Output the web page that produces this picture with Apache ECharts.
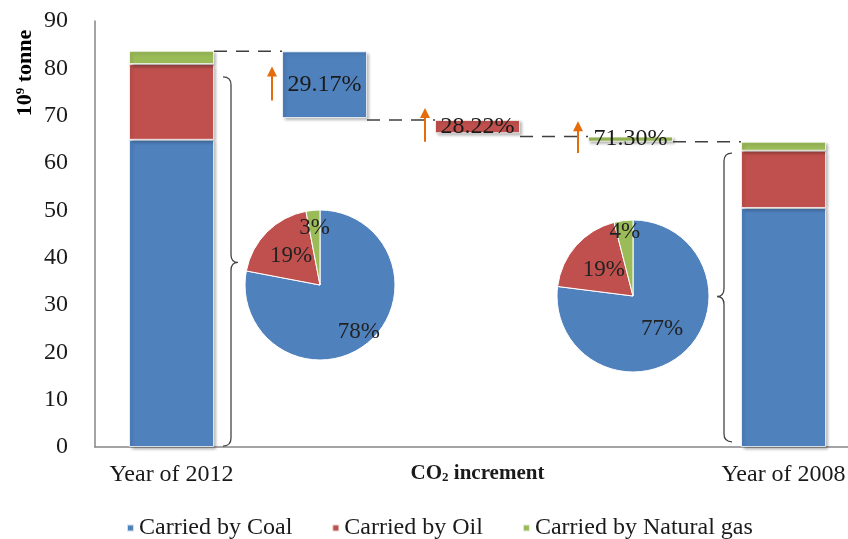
<!DOCTYPE html>
<html>
<head>
<meta charset="utf-8">
<script src="https://cdn.jsdelivr.net/npm/echarts@6/dist/echarts.min.js"></script>
<style>html,body{margin:0;padding:0;background:#fff}#c{width:848px;height:539px}</style>
</head>
<body>
<div id="c"></div>
<script>
// ---- data ----
const categories = ['2012', 'coalInc', 'oilInc', 'gasInc', '2008'];
const xLabels = ['Year of 2012', '', 'CO2 increment', '', 'Year of 2008'];
const seriesNames = ['Carried by Coal', 'Carried by Oil', 'Carried by Natural gas'];
const base = ['-', 69.5, 66.3, 64.5, '-'];
const coal = [64.9, 14.1, '-', '-', 50.5];
const oil  = [16.0, '-', 2.8, '-', 12.1];
const gas  = [2.8, '-', '-', 1.1, 1.9];
const incrementLabels = ['', '29.17%', '28.22%', '71.30%', ''];
const connectors = [[0, 1, 83.6], [1, 2, 69.1], [2, 3, 65.6], [3, 4, 64.5]];
const arrows = [[1, 73.2, 80.4], [2, 64.5, 71.6], [3, 62.1, 68.8]];
const braces = [[0, 78.2, 39.0, 0.2, 1], [4, 62.1, 31.8, 1.1, -1]];
const pie2012 = [78, 19, 3];
const pie2008 = [77, 19, 4];
const yTicks = [0, 90, 10];

// ---- style ----
const FONT = "'Liberation Serif', 'Times New Roman', serif";
const colors = ['#4F81BD', '#C0504D', '#9BBB59'];
const BAR_W = 85;
const TXT = '#1a1a1a';
const pieLabelRadius2012 = [61, 41, 57];
const pieLabelRadius2008 = [44, 39, 65];

const chart = echarts.init(document.getElementById('c'), null, {renderer: 'canvas'});

const barItem = (c) => ({
  color: c, borderColor: 'rgba(255,255,255,0.75)', borderWidth: 1,
  shadowColor: 'rgba(0,0,0,0.28)', shadowBlur: 3, shadowOffsetX: 2, shadowOffsetY: 2
});
const incLabel = {
  show: true, position: 'inside', fontFamily: FONT, fontSize: 24, color: TXT,
  formatter: p => incrementLabels[p.dataIndex]
};

function pieSeries(center, radius, vals, labelR) {
  const total = vals.reduce((a, b) => a + b, 0);
  let cum = 0;
  const pos = vals.map((v, i) => {
    const th = (cum + v / 2) / total * 2 * Math.PI;
    cum += v;
    return [center[0] + labelR[i] * Math.sin(th), center[1] - labelR[i] * Math.cos(th)];
  });
  return {
    type: 'pie', center: center, radius: radius, startAngle: 90, clockwise: true,
    silent: true, z: 3, animation: false,
    itemStyle: {borderColor: '#fff', borderWidth: 1},
    label: {show: true, position: 'inside', formatter: '{c}%', fontFamily: FONT, fontSize: 23,
            color: '#222', align: 'center', verticalAlign: 'middle'},
    labelLine: {show: false},
    labelLayout: p => ({x: pos[p.dataIndex][0], y: pos[p.dataIndex][1], align: 'center', verticalAlign: 'middle'}),
    data: vals.map((v, i) => ({name: seriesNames[i], value: v, itemStyle: {color: colors[i]}}))
  };
}

const option = {
  animation: false,
  textStyle: {fontFamily: FONT},
  grid: {left: 95, right: -12, top: 21, bottom: 92, containLabel: false, outerBoundsMode: 'none'},
  legend: {
    data: seriesNames, top: 511, left: 121, icon: 'rect',
    itemWidth: 7, itemHeight: 7, itemGap: 39,
    textStyle: {fontFamily: FONT, fontSize: 24, color: TXT}
  },
  xAxis: {
    type: 'category', data: categories,
    axisLine: {lineStyle: {color: '#868686', width: 1.5}},
    axisTick: {show: false},
    axisLabel: {
      interval: 0, margin: 16, fontFamily: FONT, fontSize: 24, color: TXT,
      formatter: (v, i) => {
        const t = xLabels[i];
        if (t.indexOf('CO2') === 0) return '{b|CO}{s|2}{b|' + t.slice(3) + '}';
        return t;
      },
      rich: {
        b: {fontFamily: FONT, fontSize: 21, fontWeight: 'bold', color: TXT},
        s: {fontFamily: FONT, fontSize: 13, fontWeight: 'bold', color: TXT, verticalAlign: 'bottom'}
      }
    }
  },
  yAxis: {
    type: 'value', min: yTicks[0], max: yTicks[1], interval: yTicks[2],
    axisLine: {show: true, lineStyle: {color: '#868686', width: 1.5}},
    axisTick: {show: false}, splitLine: {show: false},
    axisLabel: {margin: 27, fontFamily: FONT, fontSize: 24, color: TXT}
  },
  graphic: [{
    type: 'text', x: 25, y: 73, rotation: Math.PI / 2,
    style: {
      text: '{a|10}{s|9}{a| tonne}', align: 'center', verticalAlign: 'middle', fill: '#000',
      rich: {
        a: {fontFamily: FONT, fontSize: 22, fontWeight: 'bold', fill: '#000'},
        s: {fontFamily: FONT, fontSize: 13, fontWeight: 'bold', fill: '#000', verticalAlign: 'top'}
      }
    }
  }],
  series: [
    {name: 'base', type: 'bar', stack: 'w', barWidth: BAR_W, data: base, silent: true,
     itemStyle: {color: 'rgba(0,0,0,0)'}},
    {name: seriesNames[0], type: 'bar', stack: 'w', barWidth: BAR_W, data: coal,
     itemStyle: barItem(colors[0]), label: incLabel},
    {name: seriesNames[1], type: 'bar', stack: 'w', barWidth: BAR_W, data: oil,
     itemStyle: barItem(colors[1]), label: incLabel},
    {name: seriesNames[2], type: 'bar', stack: 'w', barWidth: BAR_W, data: gas,
     itemStyle: barItem(colors[2]), label: incLabel},
    {
      type: 'custom', silent: true, z: 5, data: connectors, encode: {x: 0, y: 2},
      renderItem: (params, api) => {
        const a = api.coord([api.value(0), api.value(2)]);
        const b = api.coord([api.value(1), api.value(2)]);
        const hw = BAR_W / 2;
        return {type: 'line', shape: {x1: a[0] + hw, y1: a[1], x2: b[0] - hw, y2: b[1]},
                style: {stroke: '#3f3f3f', lineWidth: 1.5, lineDash: [13, 9]}};
      }
    },
    {
      type: 'custom', silent: true, z: 5, data: arrows, encode: {x: 0, y: [1, 2]},
      renderItem: (params, api) => {
        const c = api.coord([api.value(0), api.value(1)]);
        const t = api.coord([api.value(0), api.value(2)]);
        const x = c[0] - BAR_W / 2 - 10;
        return {type: 'group', children: [
          {type: 'line', shape: {x1: x, y1: c[1], x2: x, y2: t[1] + 8},
           style: {stroke: '#E46C0A', lineWidth: 2}},
          {type: 'polygon', shape: {points: [[x, t[1]], [x - 5, t[1] + 10], [x + 5, t[1] + 10]]},
           style: {fill: '#E46C0A'}}
        ]};
      }
    },
    {
      type: 'custom', silent: true, z: 5, data: braces, encode: {x: 0, y: [1, 2, 3]},
      renderItem: (params, api) => {
        const dir = api.value(4);
        const top = api.coord([api.value(0), api.value(1)]);
        const mid = api.coord([api.value(0), api.value(2)]);
        const bot = api.coord([api.value(0), api.value(3)]);
        const edge = top[0] + dir * BAR_W / 2;
        const x0 = edge + dir * 9, xv = x0 + dir * 8, xt = xv + dir * 7;
        const yt = top[1], ym = mid[1], yb = bot[1], r = 8;
        const d = 'M' + x0 + ' ' + yt + ' Q' + xv + ' ' + yt + ' ' + xv + ' ' + (yt + r) +
          ' L' + xv + ' ' + (ym - r) + ' Q' + xv + ' ' + ym + ' ' + xt + ' ' + ym +
          ' Q' + xv + ' ' + ym + ' ' + xv + ' ' + (ym + r) +
          ' L' + xv + ' ' + (yb - r) + ' Q' + xv + ' ' + yb + ' ' + x0 + ' ' + yb;
        return {type: 'path', shape: {pathData: d},
                style: {stroke: '#444', lineWidth: 1.3, fill: null}};
      }
    },
    pieSeries([320, 285], 75, pie2012, pieLabelRadius2012),
    pieSeries([633, 296], 76, pie2008, pieLabelRadius2008)
  ]
};
chart.setOption(option);
</script>
</body>
</html>
